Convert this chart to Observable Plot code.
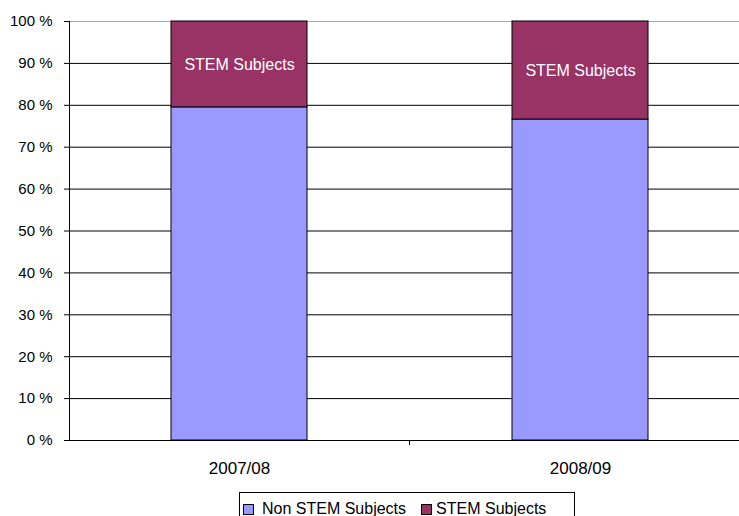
<!DOCTYPE html>
<html>
<head>
<meta charset="utf-8">
<script src="https://cdn.jsdelivr.net/npm/d3@7"></script>
<script src="https://cdn.jsdelivr.net/npm/@observablehq/plot@0.6"></script>
<style>
  body { margin: 0; background: #fff; font-family: "Liberation Sans", Arial, sans-serif; }
  #wrap { position: relative; width: 739px; height: 516px; overflow: hidden; }
  #legend { position: absolute; left: 239px; top: 492px; border: 1px solid #000; padding: 0 0 0 3px;
            font-size: 16px; line-height: 18px; white-space: nowrap; background: #fff; width: 336px; height: 40px; box-sizing: border-box; padding-top: 7px; color: #000;}
  .sw { display: inline-block; width: 9px; height: 9px; border: 1px solid #000; vertical-align: -1px; }
</style>
</head>
<body>
<div id="wrap">
  <div id="chart"></div>
  <div id="legend"></div>
</div>
<script>
const years = ["2007/08", "2008/09"];
const nonStem = [79.5, 76.6];
const stem = [20.5, 23.4];
const seriesNames = ["Non STEM Subjects", "STEM Subjects"];
const seriesColors = ["#9999FF", "#993366"];
const yTicks = [0, 10, 20, 30, 40, 50, 60, 70, 80, 90, 100];

const data = [];
years.forEach((y, i) => {
  data.push({year: y, series: seriesNames[0], value: nonStem[i]});
  data.push({year: y, series: seriesNames[1], value: stem[i]});
});
const stemRows = years.map((y, i) => ({year: y, lo: nonStem[i], hi: nonStem[i] + stem[i], label: seriesNames[1]}));

const separator = (index, scales) => {
  const ns = "http://www.w3.org/2000/svg";
  const g = document.createElementNS(ns, "g");
  const bwRaw = scales.x.bandwidth;
  const bw = typeof bwRaw === "function" ? bwRaw() : (bwRaw ?? scales.scales?.x?.bandwidth ?? 0);
  const x = (scales.x(years[0]) + scales.x(years[1]) + bw) / 2;
  const y0 = scales.y(0);
  const l = document.createElementNS(ns, "line");
  l.setAttribute("x1", x); l.setAttribute("x2", x);
  l.setAttribute("y1", y0); l.setAttribute("y2", y0 + 5);
  l.setAttribute("stroke", "#000");
  g.appendChild(l);
  return g;
};

const chart = Plot.plot({
  width: 739,
  height: 482,
  marginTop: 21,
  marginBottom: 42,
  marginLeft: 69,
  marginRight: 0,
  style: {fontFamily: "'Liberation Sans', Arial, sans-serif", fontSize: "15px", color: "#000", background: "#fff"},
  x: {domain: years, range: [69, 751], paddingInner: 0.601, paddingOuter: 0.3005, label: null},
  y: {domain: [0, 100], label: null},
  color: {domain: seriesNames, range: seriesColors},
  marks: [
    Plot.ruleY(yTicks.filter(d => d < 100), {y: d => d, stroke: "#000", strokeWidth: 1}),
    Plot.ruleY([100], {stroke: "#aaa", strokeWidth: 1}),
    Plot.barY(data, {x: "year", y: "value", fill: "series", stroke: "#000", strokeWidth: 1, order: seriesNames}),
    Plot.text(stemRows, {x: "year", y: d => (d.lo + d.hi) / 2, text: "label", fill: "#fff", fontSize: 16}),
    Plot.axisY({ticks: yTicks, tickFormat: d => d + " %", tickSize: 5, tickPadding: 12, label: null, stroke: "#000", fontSize: 15}),
    Plot.frame({anchor: "left", stroke: "#000"}),
    Plot.axisX({tickSize: 0, tickPadding: 21, label: null, fontSize: 17}),
    separator
  ]
});
document.getElementById("chart").appendChild(chart);

const lg = document.getElementById("legend");
const gaps = [[8, 15], [4, 0]];
seriesNames.forEach((n, i) => {
  const s = document.createElement("span");
  s.innerHTML = `<span class="sw" style="background:${seriesColors[i]};margin-right:${gaps[i][0]}px"></span><span style="margin-right:${gaps[i][1]}px">${n}</span>`;
  lg.appendChild(s);
});
</script>
</body>
</html>
